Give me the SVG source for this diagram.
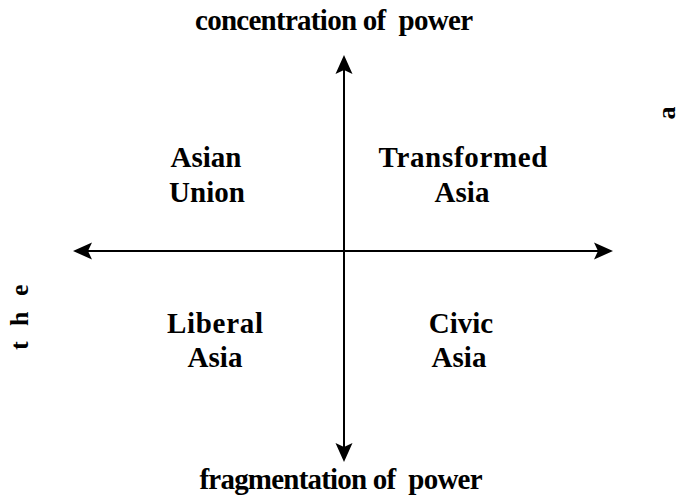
<svg xmlns="http://www.w3.org/2000/svg" width="680" height="502" viewBox="0 0 680 502">
<style>
text{font-family:"Liberation Serif","Times New Roman",serif;font-weight:bold;font-size:29px;fill:#000;text-anchor:middle}
.ax{stroke:#000;stroke-width:2;fill:none}
.ah{fill:#000;stroke:none}
</style>
<rect width="680" height="502" fill="#fff"/>
<g id="connectors">
<line class="ax" x1="344" y1="70" x2="344" y2="447"/>
<path class="ah" d="M344,55 L352.5,74 L344,70 L335.5,74 Z"/>
<path class="ah" d="M344,462 L352.5,443 L344,447 L335.5,443 Z"/>
<line class="ax" x1="88" y1="251" x2="598" y2="251"/>
<path class="ah" d="M73,251 L92,242.5 L88,251 L92,259.5 Z"/>
<path class="ah" d="M613,251 L594,242.5 L598,251 L594,259.5 Z"/>
</g>
<g id="top-label"><text x="334" y="30" xml:space="preserve" textLength="278">concentration of  power</text></g>
<g id="bottom-label"><text x="341" y="489" xml:space="preserve" textLength="283">fragmentation of  power</text></g>
<g id="asian-union"><text x="206" y="167">Asian</text><text x="207" y="202">Union</text></g>
<g id="transformed-asia"><text x="463" y="167" textLength="169">Transformed</text><text x="462" y="202">Asia</text></g>
<g id="liberal-asia"><text x="215" y="333" textLength="96">Liberal</text><text x="215" y="367">Asia</text></g>
<g id="civic-asia"><text x="461" y="333">Civic</text><text x="459" y="367">Asia</text></g>
<g id="left-fragment"><text transform="translate(28,315) rotate(-90)" style="font-size:26px;letter-spacing:4.5px">t h e</text></g>
<g id="right-fragment"><text transform="translate(675,113) rotate(-90)" style="font-size:26px">a</text></g>
</svg>
